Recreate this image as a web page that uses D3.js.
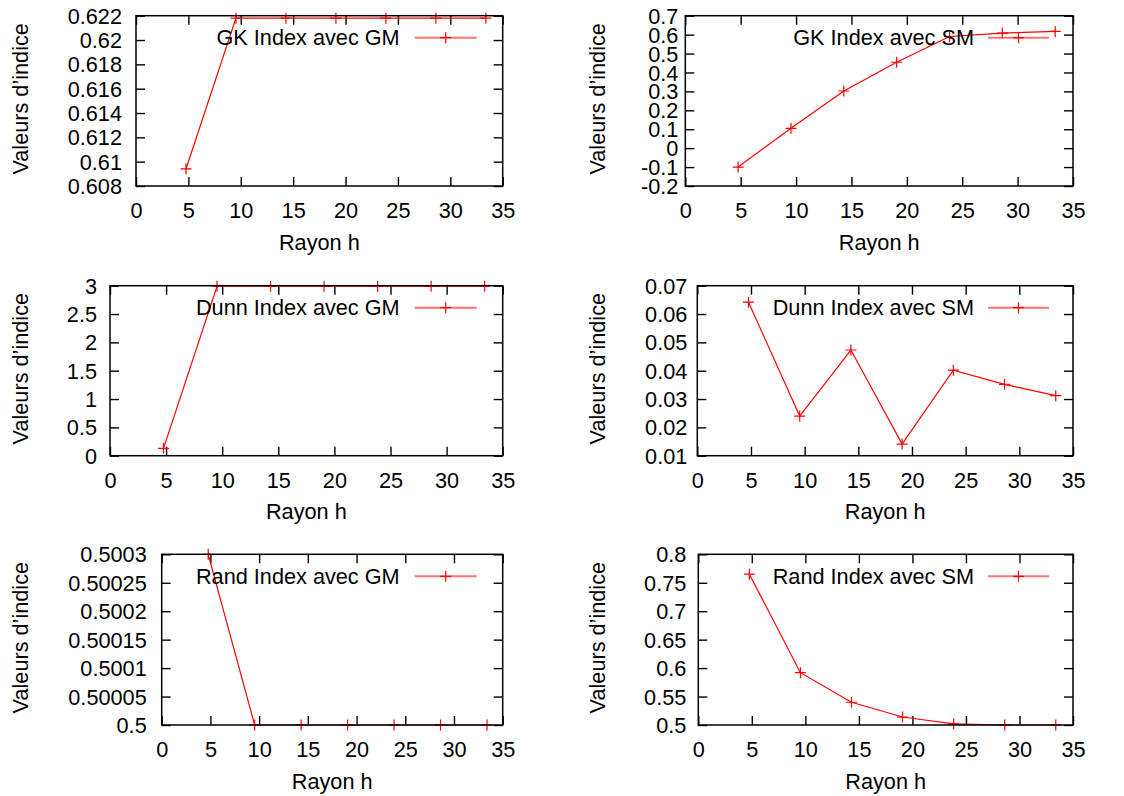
<!DOCTYPE html>
<html>
<head>
<meta charset="utf-8">
<script src="https://cdn.jsdelivr.net/npm/d3@7"></script>
<style>
  html, body { margin: 0; padding: 0; background: #fff; }
  svg text { font-family: "Liberation Sans", Arial, Helvetica, sans-serif; fill: #000; }
</style>
</head>
<body>
<svg id="chart" width="1124" height="796"></svg>
<script>
// ---- Data ----
const rayonH = [4.77, 9.54, 14.31, 19.08, 23.85, 28.62, 33.39];
const gkGM   = [0.6094, 0.6218, 0.6218, 0.6218, 0.6218, 0.6218, 0.6218];
const gkSM   = [-0.10, 0.105, 0.302, 0.454, 0.590, 0.608, 0.617];
const dunnGM = [0.13, 2.99, 2.99, 2.99, 2.99, 2.99, 2.99];
const dunnSM = [0.0642, 0.0240, 0.0473, 0.0141, 0.0402, 0.0352, 0.0312];
const randGM = [0.50030, 0.5, 0.5, 0.5, 0.5, 0.5, 0.5];
const randSM = [0.765, 0.592, 0.540, 0.514, 0.502, 0.500, 0.500];

const xTicks = [0, 5, 10, 15, 20, 25, 30, 35];
const yTicksGkGM   = ["0.608","0.61","0.612","0.614","0.616","0.618","0.62","0.622"];
const yTicksGkSM   = ["-0.2","-0.1","0","0.1","0.2","0.3","0.4","0.5","0.6","0.7"];
const yTicksDunnGM = ["0","0.5","1","1.5","2","2.5","3"];
const yTicksDunnSM = ["0.01","0.02","0.03","0.04","0.05","0.06","0.07"];
const yTicksRandGM = ["0.5","0.50005","0.5001","0.50015","0.5002","0.50025","0.5003"];
const yTicksRandSM = ["0.5","0.55","0.6","0.65","0.7","0.75","0.8"];

const legendNames = ["GK Index avec GM","GK Index avec SM","Dunn Index avec GM",
                     "Dunn Index avec SM","Rand Index avec GM","Rand Index avec SM"];
const xTitle = "Rayon h";
const yTitle = "Valeurs d\u2019indice";

// ---- Layout ----
const panels = [
  { values: gkGM,   ticks: yTicksGkGM,   name: legendNames[0], box: [136, 502.7, 15.7, 186],   col: 0, gap: 14 },
  { values: gkSM,   ticks: yTicksGkSM,   name: legendNames[1], box: [685.3, 1073, 15.7, 186],  col: 1, gap: 7 },
  { values: dunnGM, ticks: yTicksDunnGM, name: legendNames[2], box: [110, 502.7, 285.7, 455.7], col: 0, gap: 13 },
  { values: dunnSM, ticks: yTicksDunnSM, name: legendNames[3], box: [697.3, 1073, 285.7, 455.7],col: 1, gap: 10 },
  { values: randGM, ticks: yTicksRandGM, name: legendNames[4], box: [161.7, 502.7, 554.3, 725], col: 0, gap: 15 },
  { values: randSM, ticks: yTicksRandSM, name: legendNames[5], box: [698.3, 1073, 554.3, 725], col: 1, gap: 12 }
];

const svg = d3.select("#chart");
const FS = 21.7;
const red = "#ff0000";
const tickLen = 9;

function plus(g, cx, cy, s) {
  g.append("path")
    .attr("d", `M${cx - s},${cy}H${cx + s}M${cx},${cy - s}V${cy + s}`)
    .attr("stroke", red).attr("stroke-width", 1.2).attr("fill", "none");
}

panels.forEach(p => {
  const [L, R, T, B] = p.box;
  const tickNums = p.ticks.map(Number);
  const x = d3.scaleLinear().domain([0, 35]).range([L, R]);
  const y = d3.scaleLinear().domain([d3.min(tickNums), d3.max(tickNums)]).range([B, T]);
  const g = svg.append("g");

  // Y ticks (inward, mirrored) and labels
  const yAxisL = d3.axisLeft(y).tickValues(tickNums).tickSize(-tickLen).tickFormat((d, i) => p.ticks[i]).tickPadding(p.gap);
  const gy = g.append("g").attr("transform", `translate(${L},0)`).call(yAxisL);
  gy.select(".domain").remove();
  gy.selectAll("line").attr("stroke", "#000").attr("stroke-width", 1.4);
  gy.selectAll("text").attr("font-size", FS).attr("font-family", null).attr("dy", "0.35em");

  const yAxisR = d3.axisRight(y).tickValues(tickNums).tickSize(-tickLen).tickFormat("");
  const gyr = g.append("g").attr("transform", `translate(${R},0)`).call(yAxisR);
  gyr.select(".domain").remove();
  gyr.selectAll("line").attr("stroke", "#000").attr("stroke-width", 1.4);

  // X ticks
  const xAxisB = d3.axisBottom(x).tickValues(xTicks).tickSize(-tickLen).tickFormat(d3.format("d")).tickPadding(0);
  const gx = g.append("g").attr("transform", `translate(0,${B})`).call(xAxisB);
  gx.select(".domain").remove();
  gx.selectAll("line").attr("stroke", "#000").attr("stroke-width", 1.4);
  gx.selectAll("text").attr("font-size", FS).attr("font-family", null).attr("y", 32).attr("dy", null);

  const xAxisT = d3.axisTop(x).tickValues(xTicks).tickSize(-tickLen).tickFormat("");
  const gxt = g.append("g").attr("transform", `translate(0,${T})`).call(xAxisT);
  gxt.select(".domain").remove();
  gxt.selectAll("line").attr("stroke", "#000").attr("stroke-width", 1.4);

  // Data line
  const line = d3.line().x((d, i) => x(rayonH[i])).y(d => y(d));
  g.append("path").datum(p.values).attr("d", line)
    .attr("fill", "none").attr("stroke", red).attr("stroke-width", 1.2);
  p.values.forEach((v, i) => plus(g, x(rayonH[i]), y(v), 5.5));

  // Frame
  g.append("rect").attr("x", L).attr("y", T).attr("width", R - L).attr("height", B - T)
    .attr("fill", "none").attr("stroke", "#000").attr("stroke-width", 1.5);

  // Legend
  const ly = T + 22;
  const textEnd = p.col === 0 ? R - 103 : R - 99;
  const l0 = p.col === 0 ? R - 88 : R - 85;
  const l1 = p.col === 0 ? R - 26 : R - 24;
  g.append("text").attr("x", textEnd).attr("y", ly).attr("dy", "0.35em")
    .attr("text-anchor", "end").attr("font-size", FS).text(p.name);
  g.append("line").attr("x1", l0).attr("x2", l1).attr("y1", ly).attr("y2", ly)
    .attr("stroke", red).attr("stroke-opacity", 0.55).attr("stroke-width", 2);
  plus(g, (l0 + l1) / 2, ly, 5.5);

  // Axis titles
  g.append("text").attr("x", (L + R) / 2).attr("y", B + 56).attr("dy", "0.35em")
    .attr("text-anchor", "middle").attr("font-size", FS).text(xTitle);
  const yx = p.col === 0 ? 20.5 : 597;
  const ym = (T + B) / 2 - 2;
  g.append("text").attr("transform", `translate(${yx},${ym}) rotate(-90)`).attr("dy", "0.35em")
    .attr("text-anchor", "middle").attr("font-size", FS).text(yTitle);
});
</script>
</body>
</html>
